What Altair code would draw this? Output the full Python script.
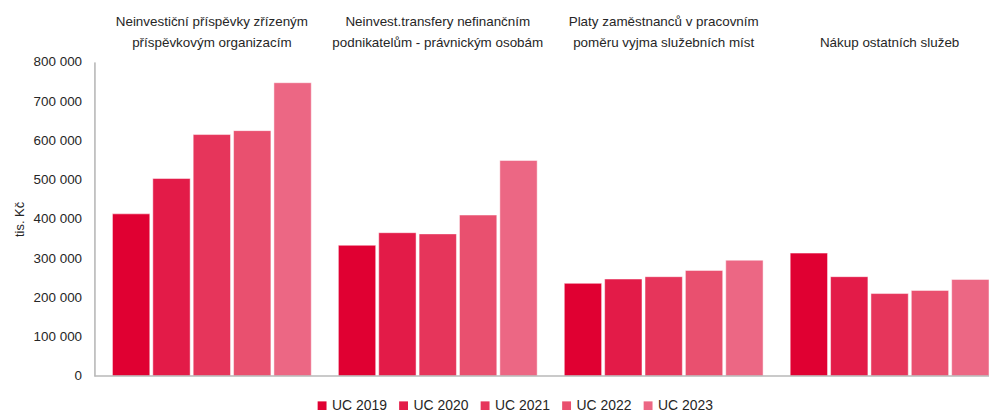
import altair as alt
import pandas as pd

categories = [
    "Neinvestiční příspěvky zřízeným\npříspěvkovým organizacím",
    "Neinvest.transfery nefinančním\npodnikatelům - právnickým osobám",
    "Platy zaměstnanců v pracovním\npoměru vyjma služebních míst",
    "Nákup ostatních služeb",
]
years = ["UC 2019", "UC 2020", "UC 2021", "UC 2022", "UC 2023"]
uc2019 = [413000, 333000, 236000, 313000]
uc2020 = [503000, 365000, 247000, 253000]
uc2021 = [615000, 362000, 253000, 210000]
uc2022 = [625000, 410000, 269000, 218000]
uc2023 = [747000, 549000, 295000, 246000]
colors = ["#E00032", "#E31B48", "#E6355B", "#E9506F", "#EC6784"]
y_ticks = [0, 100000, 200000, 300000, 400000, 500000, 600000, 700000, 800000]

series = [uc2019, uc2020, uc2021, uc2022, uc2023]
rows = []
for y, vals in zip(years, series):
    for c, v in zip(categories, vals):
        rows.append({"cat": c, "year": y, "value": v})
df = pd.DataFrame(rows)
zero_df = pd.DataFrame({"z": [0]})

FONT = "Liberation Sans"

bars = alt.Chart(df).mark_bar(
    stroke="#ffffff", strokeWidth=0.8, strokeOpacity=0.6
).encode(
    x=alt.X(
        "cat:N",
        sort=categories,
        title=None,
        scale=alt.Scale(paddingInner=0.12, paddingOuter=0.0398, align=1),
        axis=alt.Axis(
            orient="top",
            ticks=False,
            domain=False,
            labelAngle=0,
            labelExpr="indexof(datum.label, '\\n') < 0 ? ['', datum.label] : split(datum.label, '\\n')",
            labelFontSize=13.5,
            labelLineHeight=21,
            labelColor="#262626",
            labelPadding=34,
            labelLimit=400,
            labelFont=FONT,
        ),
    ),
    xOffset=alt.XOffset(
        "year:N", sort=years, scale=alt.Scale(paddingInner=0.075, paddingOuter=0)
    ),
    y=alt.Y(
        "value:Q",
        title="tis. Kč",
        scale=alt.Scale(domain=[0, 800000]),
        axis=alt.Axis(
            values=y_ticks,
            format=",d",
            grid=False,
            ticks=False,
            labelOverlap=False,
            tickCount=9,
            domainColor="#8c8c8c",
            labelFontSize=13.5,
            labelColor="#262626",
            labelPadding=13,
            labelFont=FONT,
            titleFont=FONT,
            titleFontSize=13,
            titleFontWeight="normal",
            titleColor="#262626",
            titlePadding=7,
        ),
    ),
    color=alt.Color(
        "year:N",
        sort=years,
        scale=alt.Scale(domain=years, range=colors),
        legend=alt.Legend(
            title=None,
            orient="none",
            legendX=222,
            legendY=339,
            direction="horizontal",
            symbolType="square",
            symbolSize=80,
            symbolStrokeWidth=0,
            labelFontSize=14,
            labelFont=FONT,
            labelColor="#262626",
            labelOffset=3,
            columnPadding=9,
            padding=0,
        ),
    ),
)

base_line = alt.Chart(zero_df).mark_rule(color="#b8b8b8", strokeWidth=1.5).encode(
    y=alt.Y("z:Q", axis=None)
)

chart = alt.layer(bars, base_line).resolve_axis(y="independent").properties(
    width=900, height=316,
    padding={"left": 5, "top": 5, "right": 0, "bottom": 5},
).configure(
    locale={
        "number": {
            "decimal": ",",
            "thousands": "\u00a0",
            "grouping": [3],
            "currency": ["", " Kč"],
        }
    }
).configure_axis(labelOverlap=False).configure_view(stroke=None)

chart.save("out.html", embed_options={"renderer": "svg", "actions": False})
